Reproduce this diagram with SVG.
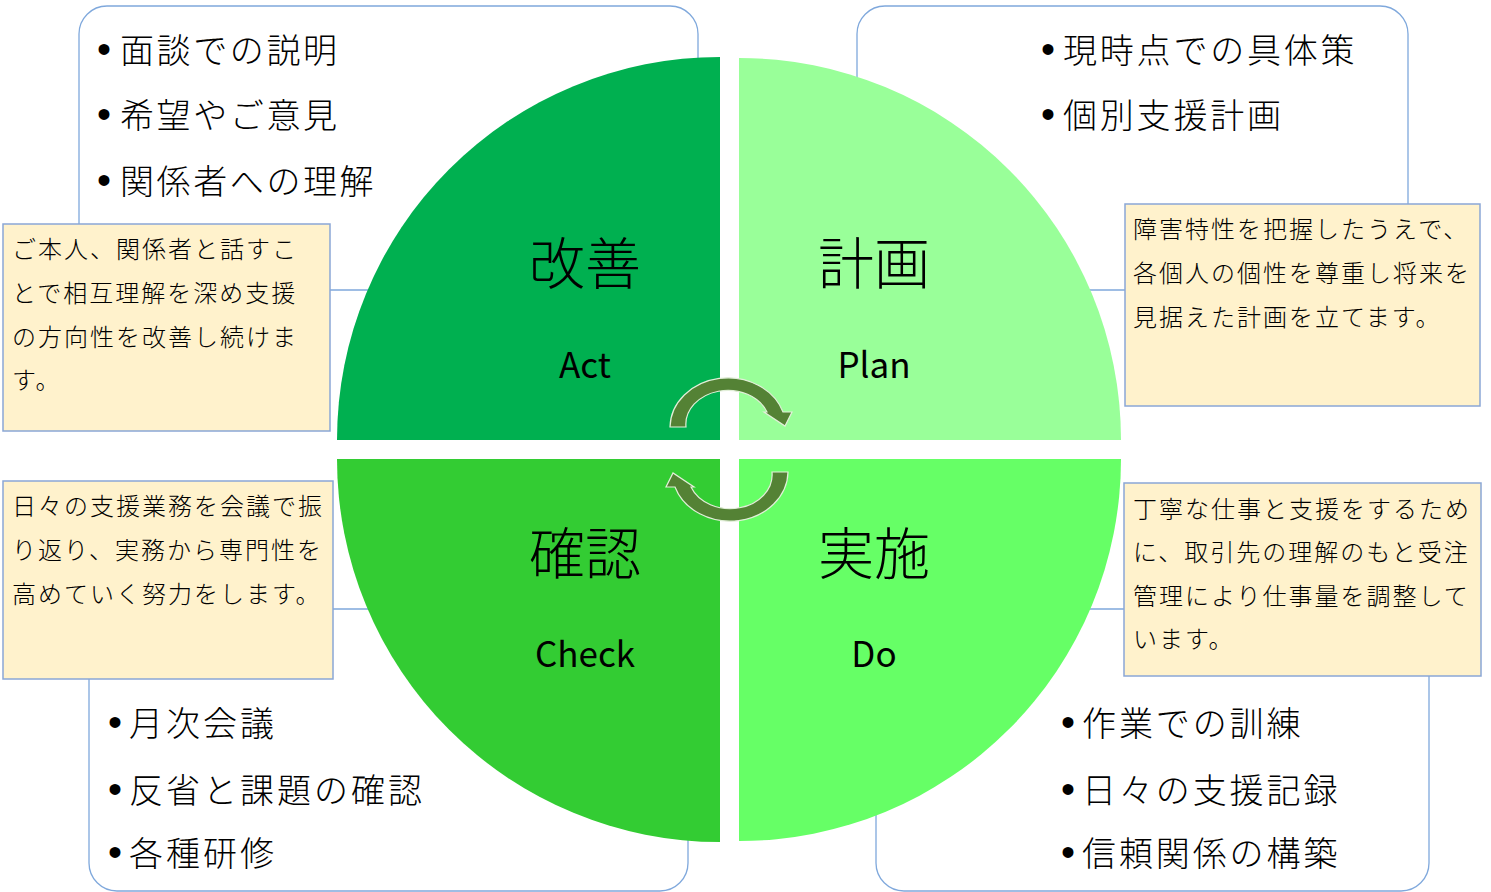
<svg xmlns="http://www.w3.org/2000/svg" xmlns:xlink="http://www.w3.org/1999/xlink" width="1491" height="892" viewBox="0 0 1491 892">
<style>
.list{fill:#fff;stroke:#7FA8DC;stroke-width:1.3}
.note{fill:#FFF2CC;stroke:#8AA7D6;stroke-width:1.5}
.jp{font-family:"Noto Sans CJK JP","Noto Sans CJK SC",sans-serif;font-weight:300;fill:#000}
.bul{font-size:34px}
.bl{font-family:"Liberation Sans",sans-serif;font-size:40px;text-anchor:middle}
.nt{font-size:24px;letter-spacing:2px}
.big{font-size:56px;text-anchor:middle}
.en{font-family:"Noto Sans CJK JP","Noto Sans",sans-serif;font-size:35px;text-anchor:middle;fill:#000}
.arr{fill:#548235;stroke:#E2EFD9;stroke-width:1.2}
</style>
<defs>
<path id="cyc" d="M670,427 A58,50 0 0 1 783,412 L792,412 L785,426 L764,412 L767,412 A42,34 0 0 0 686,427 Z"/>
</defs>
<rect width="1491" height="892" fill="#fff"/>

<g id="list-act">
<rect class="list" x="79" y="6" width="619" height="284" rx="28"/>
<text class="jp bul" y="63"><tspan class="bl" x="104">•</tspan><tspan x="120" style="letter-spacing:2.6px">面談での説明</tspan></text>
<text class="jp bul" y="128"><tspan class="bl" x="104">•</tspan><tspan x="120" style="letter-spacing:2.6px">希望やご意見</tspan></text>
<text class="jp bul" y="194"><tspan class="bl" x="104">•</tspan><tspan x="120" style="letter-spacing:2.6px">関係者への理解</tspan></text>
</g>
<g id="list-plan">
<rect class="list" x="857" y="6" width="551" height="284" rx="28"/>
<text class="jp bul" y="63"><tspan class="bl" x="1048">•</tspan><tspan x="1063" style="letter-spacing:2.8px">現時点での具体策</tspan></text>
<text class="jp bul" y="128"><tspan class="bl" x="1048">•</tspan><tspan x="1063" style="letter-spacing:2.8px">個別支援計画</tspan></text>
</g>
<g id="list-check">
<rect class="list" x="89" y="609" width="599" height="282" rx="28"/>
<text class="jp bul" y="736"><tspan class="bl" x="115">•</tspan><tspan x="129" style="letter-spacing:3px">月次会議</tspan></text>
<text class="jp bul" y="803"><tspan class="bl" x="115">•</tspan><tspan x="129" style="letter-spacing:3px">反省と課題の確認</tspan></text>
<text class="jp bul" y="866"><tspan class="bl" x="115">•</tspan><tspan x="129" style="letter-spacing:3px">各種研修</tspan></text>
</g>
<g id="list-do">
<rect class="list" x="876" y="609" width="553" height="282" rx="28"/>
<text class="jp bul" y="736"><tspan class="bl" x="1068">•</tspan><tspan x="1082" style="letter-spacing:2.9px">作業での訓練</tspan></text>
<text class="jp bul" y="803"><tspan class="bl" x="1068">•</tspan><tspan x="1082" style="letter-spacing:2.9px">日々の支援記録</tspan></text>
<text class="jp bul" y="866"><tspan class="bl" x="1068">•</tspan><tspan x="1082" style="letter-spacing:2.9px">信頼関係の構築</tspan></text>
</g>

<g id="act">
<path d="M720,440 L337,440 A383,383 0 0 1 720,57 Z" fill="#00B050"/>
<text class="jp big" x="585" y="284">改善</text>
<text class="en" x="585" y="378">Act</text>
</g>
<g id="plan">
<path d="M739,440 L739,58 A382,382 0 0 1 1121,440 Z" fill="#99FF99"/>
<text class="jp big" x="874" y="284">計画</text>
<text class="en" x="874" y="378">Plan</text>
</g>
<g id="check">
<path d="M720,459 L720,842 A383,383 0 0 1 337,459 Z" fill="#33CC33"/>
<text class="jp big" x="585" y="574">確認</text>
<text class="en" x="585" y="667">Check</text>
</g>
<g id="do">
<path d="M739,459 L1121,459 A382,382 0 0 1 739,841 Z" fill="#66FF66"/>
<text class="jp big" x="874" y="574">実施</text>
<text class="en" x="874" y="667">Do</text>
</g>

<g id="note-act">
<rect class="note" x="3" y="224" width="327" height="207"/>
<text class="jp nt" x="12" y="258">ご本人、関係者と話すこ</text>
<text class="jp nt" x="12" y="302">とで相互理解を深め支援</text>
<text class="jp nt" x="12" y="346">の方向性を改善し続けま</text>
<text class="jp nt" x="12" y="389">す。</text>
</g>
<g id="note-plan">
<rect class="note" x="1125" y="204" width="355" height="202"/>
<text class="jp nt" x="1133" y="238">障害特性を把握したうえで、</text>
<text class="jp nt" x="1133" y="282">各個人の個性を尊重し将来を</text>
<text class="jp nt" x="1133" y="326">見据えた計画を立てます。</text>
</g>
<g id="note-check">
<rect class="note" x="3" y="481" width="330" height="198"/>
<text class="jp nt" x="12" y="515">日々の支援業務を会議で振</text>
<text class="jp nt" x="12" y="559">り返り、実務から専門性を</text>
<text class="jp nt" x="12" y="603">高めていく努力をします。</text>
</g>
<g id="note-do">
<rect class="note" x="1124" y="483" width="357" height="193"/>
<text class="jp nt" x="1133" y="518">丁寧な仕事と支援をするため</text>
<text class="jp nt" x="1133" y="561">に、取引先の理解のもと受注</text>
<text class="jp nt" x="1133" y="605">管理により仕事量を調整して</text>
<text class="jp nt" x="1133" y="648">います。</text>
</g>

<g id="connectors">
<use xlink:href="#cyc" href="#cyc" class="arr"/>
<use xlink:href="#cyc" href="#cyc" class="arr" transform="rotate(180 729 449.5)"/>
</g>
</svg>
